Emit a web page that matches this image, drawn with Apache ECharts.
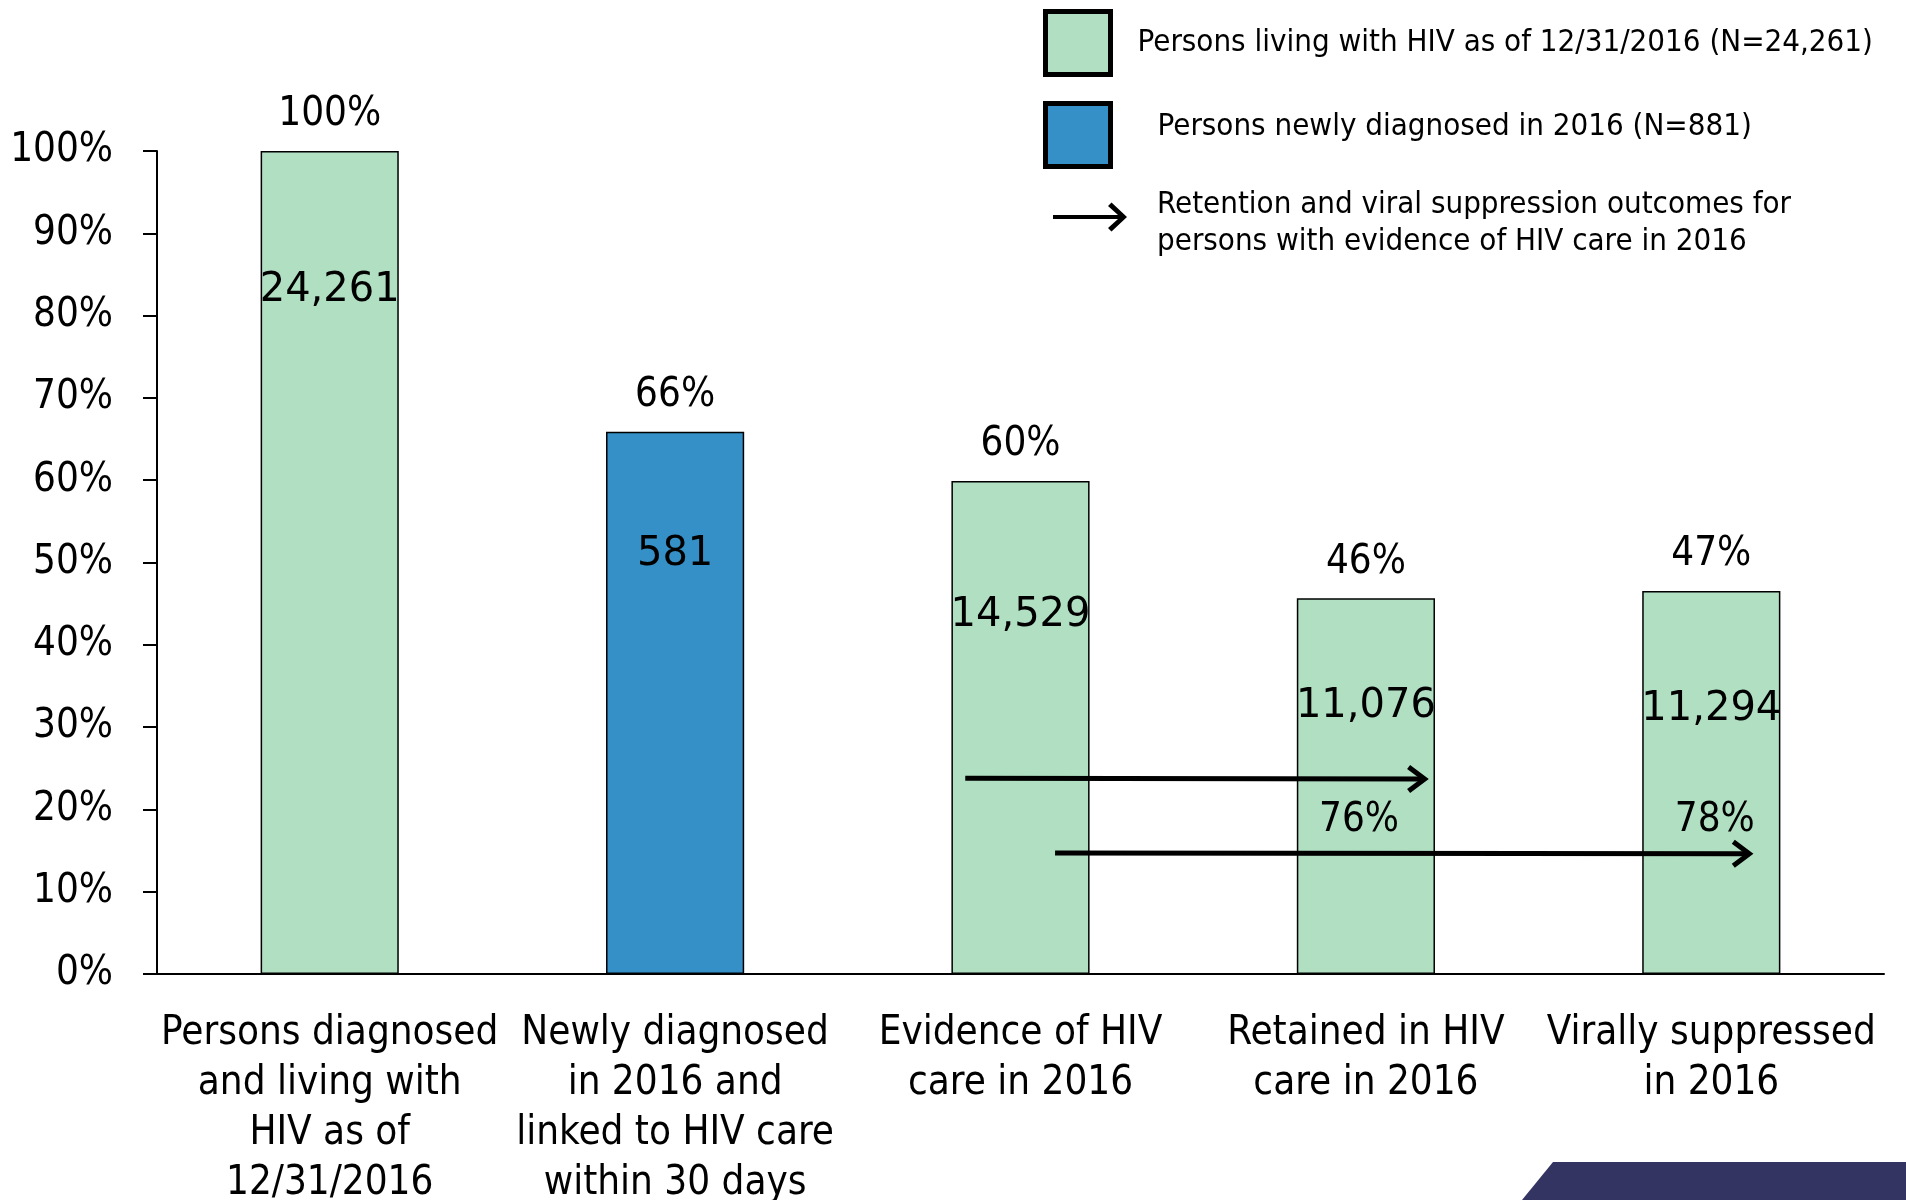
<!DOCTYPE html>
<html lang="en">
<head>
    <meta charset="UTF-8">
    <title>HIV care continuum 2016</title>
    <style>
        html, body { margin: 0; padding: 0; background: #fff; }
    </style>
</head>
<body>
<div id="main" style="height: 1200px;width: 1906px"></div>
</body>
<script src="https://cdn.jsdelivr.net/npm/echarts@6.0.0/dist/echarts.min.js"></script>
<script>
    // data
    var categories = [
        'Persons diagnosed\nand living with\nHIV as of\n12/31/2016',
        'Newly diagnosed\nin 2016 and\nlinked to HIV care\nwithin 30 days',
        'Evidence of HIV\ncare in 2016',
        'Retained in HIV\ncare in 2016',
        'Virally suppressed\nin 2016'
    ];
    var percentValues = [100, 65.9, 59.9, 45.65, 46.55];
    var newlyDiagnosed = [false, true, false, false, false];
    var percentLabels = ['100%', '66%', '60%', '46%', '47%'];
    var countLabels = ['24,261', '581', '14,529', '11,076', '11,294'];
    var yTicks = [0, 10, 20, 30, 40, 50, 60, 70, 80, 90, 100];
    // arrows: [from x, to x, from y, to y] on a value scale where 0..4 are the bar centres
    var arrows = [[1.84, 3.17, 23.8, 23.7], [2.10, 4.11, 14.7, 14.6]];
    var outcomeX = [2.98, 4.01];
    var outcomeLabels = ['76%', '78%'];

    var legendNames = [
        'Persons living with HIV as of 12/31/2016 (N=24,261)',
        'Persons newly diagnosed in 2016 (N=881)',
        'Retention and viral suppression outcomes for\npersons with evidence of HIV care in 2016'
    ];

    // layout bits
    var countOffsets = [120, 103, 115, 88, 99];
    var outcomeLabelY = 18.6;
    var condensed = '"DejaVu Sans Condensed", "DejaVu Sans", sans-serif';
    var green = '#b0dfc2';
    var blue = '#3490c6';
    var legendText = {
        fontFamily: condensed, fontSize: 31, color: '#000', lineHeight: 37,
        rich: {
            t: {fontFamily: condensed, fontSize: 31, color: '#000', lineHeight: 37},
            s: {fontSize: 1, lineHeight: 17},
            s2: {fontSize: 1, lineHeight: 12}
        }
    };

    var myChart = echarts.init(document.getElementById('main'));

    var greenData = percentValues.map(function (v, i) {
        return newlyDiagnosed[i] ? '-' : v;
    });
    var blueData = percentValues.map(function (v, i) {
        return newlyDiagnosed[i] ? v : '-';
    });
    var countData = percentValues.map(function (v, i) {
        return {value: v, label: {offset: [0, countOffsets[i]]}};
    });
    var arrowData = arrows.map(function (a, i) {
        return [a[0], a[1], a[2], a[3], outcomeX[i]];
    });

    var topLabel = {
        show: true,
        position: 'top',
        distance: 16,
        fontFamily: condensed,
        fontSize: 40,
        color: '#000',
        formatter: function (p) {
            return percentLabels[p.dataIndex];
        }
    };

    var option = {
        animation: false,
        backgroundColor: '#fff',
        grid: {left: 157, right: 22, top: 151, bottom: 226, outerBoundsMode: 'none', containLabel: false},
        legend: [{
            orient: 'vertical',
            left: 1038,
            top: 4,
            itemWidth: 65,
            itemHeight: 63,
            itemGap: 24,
            selectedMode: false,
            textStyle: legendText,
            formatter: function (name) {
                // second entry sits a little above its swatch
                return name === legendNames[1] ? '{t|' + name + '}\n{s| }' : name;
            },
            data: [
                {name: legendNames[0], icon: 'rect', itemStyle: {borderColor: '#000', borderWidth: 5},
                    textStyle: {padding: [0, 0, 0, 22]}},
                {name: legendNames[1], icon: 'rect', itemStyle: {borderColor: '#000', borderWidth: 5},
                    textStyle: {padding: [0, 0, 0, 42]}}
            ]
        }, {
            orient: 'vertical',
            left: 1048,
            top: 169,
            itemWidth: 74,
            itemHeight: 29,
            selectedMode: false,
            symbolKeepAspect: true,
            textStyle: legendText,
            formatter: function (name) {
                var lines = name.split('\n');
                return '{s2| }\n{t|' + lines[0] + '}\n{t|' + lines[1] + '}';
            },
            data: [
                {name: legendNames[2],
                    icon: 'path://M0,12.5 H65 L55,3.5 L58.5,0 L74,14.5 L58.5,29 L55,25.5 L65,16.5 H0 Z',
                    itemStyle: {color: '#000', borderWidth: 0},
                    textStyle: {padding: [0, 0, 0, 25]}}
            ]
        }],
        xAxis: [{
            type: 'category',
            data: categories,
            axisLine: {lineStyle: {color: '#000', width: 2}},
            axisTick: {show: false},
            axisLabel: {
                interval: 0,
                margin: 35,
                fontFamily: condensed,
                fontSize: 40,
                lineHeight: 50,
                color: '#000'
            }
        }, {
            type: 'value',
            min: -0.5,
            max: 4.5,
            show: false
        }],
        yAxis: {
            type: 'value',
            min: 0,
            max: 100,
            interval: 10,
            splitLine: {show: false},
            axisLine: {show: true, onZero: false, lineStyle: {color: '#000', width: 2}},
            axisTick: {show: true, length: 14, lineStyle: {color: '#000', width: 2}},
            axisLabel: {
                margin: 44,
                fontFamily: condensed,
                fontSize: 40,
                color: '#000',
                formatter: function (v) {
                    return yTicks.indexOf(v) >= 0 ? v + '%' : '';
                }
            }
        },
        series: [{
            name: legendNames[0],
            type: 'bar',
            data: greenData,
            barWidth: '40%',
            barGap: '-100%',
            itemStyle: {color: green, borderColor: '#000', borderWidth: 1.5},
            label: topLabel
        }, {
            name: legendNames[1],
            type: 'bar',
            data: blueData,
            barWidth: '40%',
            barGap: '-100%',
            itemStyle: {color: blue, borderColor: '#000', borderWidth: 1.5},
            label: topLabel
        }, {
            name: 'counts',
            type: 'bar',
            data: countData,
            barWidth: '40%',
            barGap: '-100%',
            z: 5,
            itemStyle: {color: 'rgba(0,0,0,0)', borderWidth: 0},
            label: {
                show: true,
                position: 'insideTop',
                distance: 0,
                fontFamily: '"DejaVu Sans", sans-serif',
                fontSize: 40,
                color: '#000',
                formatter: function (p) {
                    return countLabels[p.dataIndex];
                }
            }
        }, {
            name: legendNames[2],
            type: 'custom',
            xAxisIndex: 1,
            z: 10,
            itemStyle: {color: '#000'},
            data: arrowData,
            renderItem: function (params, api) {
                var p0 = api.coord([api.value(0), api.value(2)]);
                var p1 = api.coord([api.value(1), api.value(3)]);
                var pt = api.coord([api.value(4), outcomeLabelY]);
                return {
                    type: 'group',
                    children: [{
                        type: 'line',
                        shape: {x1: p0[0], y1: p0[1], x2: p1[0], y2: p1[1]},
                        style: {stroke: '#000', lineWidth: 5}
                    }, {
                        type: 'polyline',
                        shape: {points: [[p1[0] - 16, p1[1] - 12], [p1[0], p1[1]], [p1[0] - 16, p1[1] + 12]]},
                        style: {stroke: '#000', lineWidth: 5, fill: null}
                    }, {
                        type: 'text',
                        x: pt[0],
                        y: pt[1],
                        style: {
                            text: outcomeLabels[params.dataIndex],
                            font: '40px ' + condensed,
                            fill: '#000',
                            align: 'center',
                            verticalAlign: 'middle'
                        }
                    }]
                };
            }
        }],
        graphic: [{
            type: 'polygon',
            shape: {points: [[1522, 1200], [1553, 1162], [1906, 1162], [1906, 1200]]},
            style: {fill: '#333462'},
            silent: true
        }]
    };

    myChart.setOption(option);
</script>
</html>
